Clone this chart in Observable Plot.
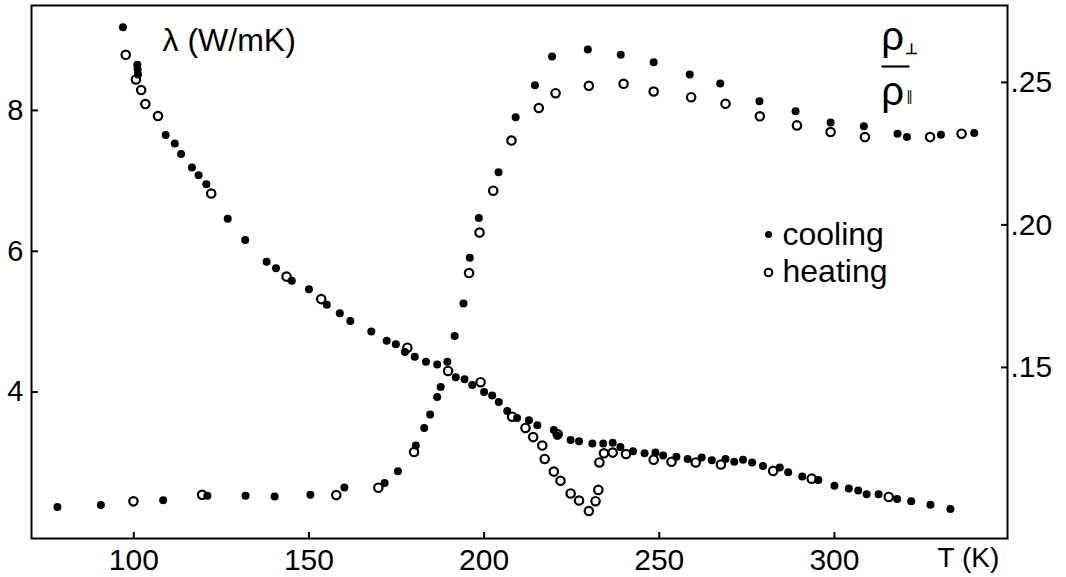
<!DOCTYPE html>
<html><head><meta charset="utf-8">
<script src="https://cdn.jsdelivr.net/npm/d3@7"></script>
<script src="https://cdn.jsdelivr.net/npm/@observablehq/plot@0.6"></script>
<style>body{margin:0;background:#fff}</style>
</head><body><div id="chart"></div>
<script>
// ---- thermal conductivity λ (W/mK) ----
const lamCoolT = [96.9,101.0,101.1,101.2,109.1,111.7,113.5,116.6,118.5,120.7,126.8,131.8,137.9,140.6,145.1,150.0,155.1,158.8,161.8,167.8,172.2,174.8,177.4,180.2,183.4,186.6,191.9,194.4,196.6,200.0,202.3,204.2,206.6,209.4,212.8,215.2,219.9,220.9,224.7,227.1,230.9,234.0,236.7,238.9,242.5,245.8,248.9,251.1,254.9,258.1,262.1,265.0,268.9,271.4,273.9,276.5,279.6,284.4,286.8,290.8,295.4,300.0,304.1,306.8,309.2,312.6,317.9,321.9,327.4,333.1];
const lamCoolV = [9.18,8.65,8.58,8.51,7.65,7.53,7.38,7.19,7.08,6.95,6.46,6.16,5.85,5.76,5.58,5.46,5.24,5.12,5.01,4.86,4.73,4.68,4.57,4.50,4.43,4.39,4.21,4.18,4.10,4.00,3.95,3.86,3.73,3.63,3.60,3.53,3.46,3.38,3.32,3.30,3.27,3.27,3.28,3.22,3.16,3.13,3.14,3.10,3.08,3.05,3.07,3.03,3.05,3.01,3.04,3.00,2.95,2.93,2.86,2.80,2.75,2.67,2.63,2.60,2.55,2.55,2.48,2.45,2.40,2.34];
const lamHeatT = [97.7,100.6,102.1,103.3,106.9,122.1,143.6,153.5,178.1,189.7,199.0,208.0,211.8,214.0,216.6,217.3,219.9,221.0,221.8,224.7,227.1,229.9,231.8,232.6,232.9,234.2,236.7,240.5,248.4,253.5,260.4,267.6,282.5,293.5,315.5];
const lamHeatV = [8.79,8.44,8.29,8.09,7.92,6.82,5.64,5.32,4.63,4.30,4.14,3.65,3.49,3.36,3.24,3.05,2.87,3.40,2.74,2.56,2.46,2.31,2.45,2.61,3.00,3.13,3.14,3.12,3.04,3.01,3.00,2.97,2.88,2.77,2.51];

// ---- resistivity ratio ρ⊥/ρ∥ ----
const rhoCoolT = [78.2,90.6,108.4,121.0,131.9,140.2,150.4,160.1,171.6,175.4,180.5,182.9,184.6,186.6,187.6,189.5,191.6,194.1,195.9,198.5,204.1,209.0,214.5,219.4,229.6,239.0,248.4,258.7,267.4,278.6,288.9,298.9,308.4,318.0,320.7,330.4,339.9];
const rhoCoolV = [0.101,0.1017,0.1034,0.105,0.105,0.1047,0.1053,0.1079,0.1094,0.1136,0.1226,0.1287,0.1335,0.1396,0.1431,0.152,0.161,0.1724,0.1885,0.2024,0.2185,0.2378,0.249,0.2591,0.2615,0.2597,0.2571,0.2528,0.2496,0.2434,0.2399,0.2359,0.2346,0.232,0.2308,0.2316,0.2322];
const rhoHeatT = [99.9,119.5,157.8,169.8,180.0,195.7,198.7,202.6,207.8,215.6,220.4,229.9,239.8,248.4,259.1,268.9,278.7,289.3,298.9,308.7,327.3,336.3];
const rhoHeatV = [0.103,0.1053,0.1052,0.1078,0.1203,0.1831,0.1973,0.212,0.2296,0.241,0.2462,0.2488,0.2495,0.2468,0.2448,0.2425,0.2381,0.2349,0.2326,0.2308,0.2308,0.232];

// ---- ticks ----
const xTicks = [100,150,200,250,300];
const lamTicks = [4,6,8];
const rhoTicks = [0.15,0.20,0.25];

// right axis aligned to left axis: ρ = 0.25 sits at λ = 8.398, 40.48 λ-units per ρ-unit
const RHO_REF = 0.25, LAM_AT_REF = 8.398, LAM_PER_RHO = 40.48;
const rhoToLam = r => LAM_AT_REF + (r - RHO_REF) * LAM_PER_RHO;
const lamToRho = l => RHO_REF + (l - LAM_AT_REF) / LAM_PER_RHO;

const rows = (T, V, f = v => v) => T.map((t, i) => ({T: t, v: f(V[i])}));
const lamCool = rows(lamCoolT, lamCoolV);
const lamHeat = rows(lamHeatT, lamHeatV);
const rhoCool = rows(rhoCoolT, rhoCoolV, rhoToLam);
const rhoHeat = rows(rhoHeatT, rhoHeatV, rhoToLam);
const rhoTickPos = rhoTicks.map(rhoToLam);

const W = 1066, H = 577, ML = 31, MR = 59, MT = 5, MB = 39;
const FW = W - ML - MR, FH = H - MT - MB;
const FONT = "'Liberation Sans', Arial, Helvetica, sans-serif";
const ink = "#000";
const tl = {frameAnchor: "top-left"};
const barSymbol = {draw(ctx) { ctx.moveTo(-14, 0); ctx.lineTo(14, 0); }};

const chart = Plot.plot({
  width: W, height: H,
  marginLeft: ML, marginRight: MR, marginTop: MT, marginBottom: MB,
  style: {fontFamily: FONT, background: "#fff", color: ink, overflow: "visible"},
  x: {domain: [70.8, 349.4]},
  y: {domain: [1.92, 9.49]},
  marks: [
    Plot.frame({stroke: ink, strokeWidth: 2}),
    // inward tick marks
    Plot.tickX(xTicks, {x: d => d, insetTop: FH - 6, stroke: ink, strokeWidth: 2}),
    Plot.tickY(lamTicks, {y: d => d, insetRight: FW - 7, stroke: ink, strokeWidth: 2}),
    Plot.tickY(rhoTickPos, {y: d => d, insetLeft: FW - 6, stroke: ink, strokeWidth: 2}),
    // tick labels
    Plot.axisX({ticks: xTicks, tickSize: 0, tickPadding: 10, fontSize: 30, label: null, tickFormat: d => String(d)}),
    Plot.axisY({ticks: lamTicks, tickSize: 0, tickPadding: 8, fontSize: 29, label: null, tickFormat: d => String(d)}),
    Plot.axisY({anchor: "right", ticks: rhoTickPos, tickSize: 0, tickPadding: 3, fontSize: 30, label: null,
      tickFormat: d => d3.format(".2f")(lamToRho(d)).replace(/^0/, "")}),
    // data
    Plot.dot(rhoCool, {x: "T", y: "v", r: 4, fill: ink}),
    Plot.dot(lamCool, {x: "T", y: "v", r: 4, fill: ink}),
    Plot.dot(rhoHeat, {x: "T", y: "v", r: 4.2, fill: "none", stroke: ink, strokeWidth: 2.2}),
    Plot.dot(lamHeat, {x: "T", y: "v", r: 4.2, fill: "none", stroke: ink, strokeWidth: 2.2}),
    // axis titles
    Plot.text(["λ (W/mK)"], {...tl, text: d => d, dx: 131, dy: 23, textAnchor: "start", fontSize: 32, letterSpacing: 1.5, fill: ink}),
    Plot.text(["T (K)"], {frameAnchor: "bottom-right", text: d => d, dx: -70, dy: 28, textAnchor: "start", fontSize: 28, fill: ink}),
    Plot.text(["ρ"], {...tl, text: d => d, dx: 861, dy: 16, textAnchor: "middle", fontSize: 40, fill: ink}),
    Plot.text(["⊥"], {...tl, text: d => d, dx: 880, dy: 38, textAnchor: "middle", fontSize: 15, fontWeight: "bold", fill: ink}),
    Plot.dot([0], {...tl, dx: 864, dy: 61, symbol: barSymbol, fill: "none", stroke: ink, strokeWidth: 2.2}),
    Plot.text(["ρ"], {...tl, text: d => d, dx: 861, dy: 71, textAnchor: "middle", fontSize: 40, fill: ink}),
    Plot.text(["∥"], {...tl, text: d => d, dx: 878, dy: 86, textAnchor: "middle", fontSize: 14, fill: ink}),
    // legend
    Plot.dot([0], {...tl, dx: 737, dy: 229, r: 3.5, fill: ink}),
    Plot.text(["cooling"], {...tl, text: d => d, dx: 751, dy: 217, textAnchor: "start", fontSize: 32, letterSpacing: 1.2, fill: ink}),
    Plot.dot([0], {...tl, dx: 737, dy: 267, r: 3.8, fill: "none", stroke: ink, strokeWidth: 2}),
    Plot.text(["heating"], {...tl, text: d => d, dx: 751, dy: 254, textAnchor: "start", fontSize: 32, letterSpacing: 1.2, fill: ink})
  ]
});
document.getElementById("chart").append(chart);
</script>
</body></html>
